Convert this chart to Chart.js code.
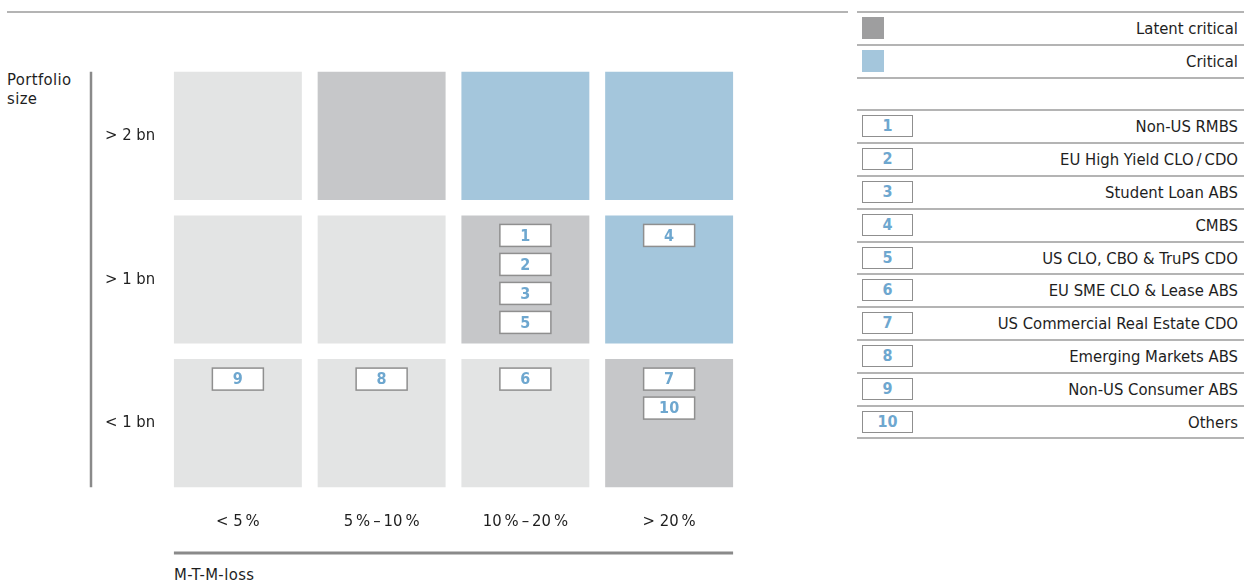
<!DOCTYPE html>
<html>
<head>
<meta charset="utf-8">
<script src="https://cdn.jsdelivr.net/npm/chart.js@4.4.0/dist/chart.umd.min.js"></script>
<style>
  body { margin: 0; background: #fff; font-family: 'DejaVu Sans Condensed', 'DejaVu Sans', sans-serif; color: #1e1e1e; }
  #page { position: relative; width: 1244px; height: 581px; overflow: hidden; }
  #matrix { position: absolute; left: 0; top: 0; }
  .rule-top { position: absolute; left: 7px; top: 11px; width: 841px; height: 2px; background: #b4b4b4; }
  .axis-title { position: absolute; font-size: 16.5px; line-height: 19px; letter-spacing: 0.4px; }
  #legend { position: absolute; left: 857px; top: 11px; width: 387px; border-top: 2px solid #b4b4b4; }
  #legend .row { position: relative; box-sizing: border-box; height: 32.8px; border-bottom: 2px solid #b4b4b4;
                 font-size: 16.5px; line-height: 31px; text-align: right; padding-right: 6px; }
  #legend .swatch { position: absolute; left: 5px; top: 4px; width: 22px; height: 22px; }
  #legend .badge { position: absolute; left: 5px; top: 4px; width: 51px; height: 22px; box-sizing: border-box;
                   border: 1.5px solid #8f8f8f; background: #fff; color: #6ea7cf; font-weight: bold;
                   font-size: 16px; text-align: center; line-height: 19px; }
</style>
</head>
<body>
<div id="page">
  <div class="rule-top"></div>
  <div class="axis-title" style="left:7px; top:70px;">Portfolio<br>size</div>
  <div class="axis-title" style="left:174px; top:565px;">M-T-M-loss</div>
  <canvas id="matrix" width="850" height="581"></canvas>
  <div id="legend"></div>
</div>
<script>
const mtmLoss = ['< 5\u2009%', '5\u2009%\u2009\u2013\u200910\u2009%', '10\u2009%\u2009\u2013\u200920\u2009%', '> 20\u2009%'];
const portfolioSize = ['< 1 bn', '> 1 bn', '> 2 bn']; // bottom to top

// 0 = uncritical, 1 = latent critical, 2 = critical (one entry per loss bucket)
const ratingSmall = [0, 0, 0, 1];
const ratingMedium = [0, 0, 1, 2];
const ratingLarge = [0, 1, 2, 2];

const statusNames = ['Latent critical', 'Critical'];

const segments = [
  'Non-US RMBS',
  'EU High Yield CLO\u2009/\u2009CDO',
  'Student Loan ABS',
  'CMBS',
  'US CLO, CBO & TruPS CDO',
  'EU SME CLO & Lease ABS',
  'US Commercial Real Estate CDO',
  'Emerging Markets ABS',
  'Non-US Consumer ABS',
  'Others'
];
// loss bucket and portfolio size bucket of each segment
const segmentLoss = [2, 2, 2, 3, 2, 2, 3, 1, 0, 3];
const segmentSize = [1, 1, 1, 1, 1, 0, 0, 0, 0, 0];

const cellColors = ['#e3e4e4', '#c6c7c9', '#a4c6dc'];
const swatchColors = ['#9e9e9f', '#a4c6dc'];
const badgeBlue = '#6ea7cf';
const ruleGray = '#8a8a8a';
const fontFamily = "'DejaVu Sans Condensed', 'DejaVu Sans', sans-serif";
const rowInset = 0.054;

const rows = [ratingSmall, ratingMedium, ratingLarge];

const datasets = rows.map((levels, r) => ({
  label: portfolioSize[r],
  data: levels.map(() => [r + rowInset, r + 1 - rowInset]),
  backgroundColor: levels.map(l => cellColors[l]),
  grouped: false,
  barPercentage: 0.89,
  categoryPercentage: 1
}));

// numbered boxes inside the cells plus the two axis rules
const matrixDecor = {
  id: 'matrixDecor',
  afterDatasetsDraw(chart) {
    const { ctx, scales: { x, y } } = chart;
    const bars = chart.getDatasetMeta(0).data;
    const first = bars[0], last = bars[bars.length - 1];

    ctx.save();
    ctx.strokeStyle = ruleGray;
    ctx.lineWidth = 2.5;
    ctx.beginPath();
    ctx.moveTo(91, y.getPixelForValue(portfolioSize.length - rowInset));
    ctx.lineTo(91, y.getPixelForValue(rowInset));
    ctx.stroke();

    ctx.lineWidth = 3;
    ctx.beginPath();
    ctx.moveTo(first.x - first.width / 2, 553);
    ctx.lineTo(last.x + last.width / 2, 553);
    ctx.stroke();

    const slots = {};
    segments.forEach((name, i) => {
      const col = segmentLoss[i], row = segmentSize[i];
      const key = col + '-' + row;
      const slot = slots[key] || 0;
      slots[key] = slot + 1;
      const cx = x.getPixelForValue(col);
      const top = y.getPixelForValue(row + 1 - rowInset) + 9 + slot * 29;
      const w = 51, h = 22;
      ctx.fillStyle = '#fff';
      ctx.fillRect(cx - w / 2, top, w, h);
      ctx.strokeStyle = '#8f8f8f';
      ctx.lineWidth = 1.5;
      ctx.strokeRect(cx - w / 2, top, w, h);
      ctx.fillStyle = badgeBlue;
      ctx.font = 'bold 16px ' + fontFamily;
      ctx.textAlign = 'center';
      ctx.textBaseline = 'middle';
      ctx.fillText(String(i + 1), cx, top + h / 2 + 1);
    });
    ctx.restore();
  }
};

new Chart(document.getElementById('matrix'), {
  type: 'bar',
  data: { labels: mtmLoss, datasets: datasets },
  options: {
    responsive: false,
    animation: false,
    layout: { padding: { left: 105, top: 64, right: 109, bottom: 0 } },
    plugins: { legend: { display: false }, tooltip: { enabled: false } },
    scales: {
      x: {
        grid: { display: false, drawTicks: false },
        border: { display: false },
        ticks: {
          padding: 17,
          color: '#1e1e1e',
          font: { family: fontFamily, size: 16.5 }
        },
        afterFit: s => { s.height = 86; }
      },
      y: {
        type: 'linear',
        min: 0,
        max: portfolioSize.length,
        grid: { display: false, drawTicks: false },
        border: { display: false },
        afterBuildTicks: s => { s.ticks = portfolioSize.map((_, i) => ({ value: i + 0.5 })); },
        ticks: {
          crossAlign: 'far',
          padding: 0,
          color: '#1e1e1e',
          font: { family: fontFamily, size: 16.5 },
          callback: v => portfolioSize[Math.floor(v)]
        },
        afterFit: s => { s.width = 61; }
      }
    }
  },
  plugins: [matrixDecor]
});

// legend table on the right
const legend = document.getElementById('legend');
statusNames.forEach((name, i) => {
  const row = document.createElement('div');
  row.className = 'row';
  row.innerHTML = '<span class="swatch" style="background:' + swatchColors[i] + '"></span>' + name;
  legend.appendChild(row);
});
const spacer = document.createElement('div');
spacer.className = 'row';
legend.appendChild(spacer);
segments.forEach((name, i) => {
  const row = document.createElement('div');
  row.className = 'row';
  const badge = document.createElement('span');
  badge.className = 'badge';
  badge.textContent = i + 1;
  row.appendChild(badge);
  row.appendChild(document.createTextNode(name));
  legend.appendChild(row);
});
</script>
</body>
</html>
